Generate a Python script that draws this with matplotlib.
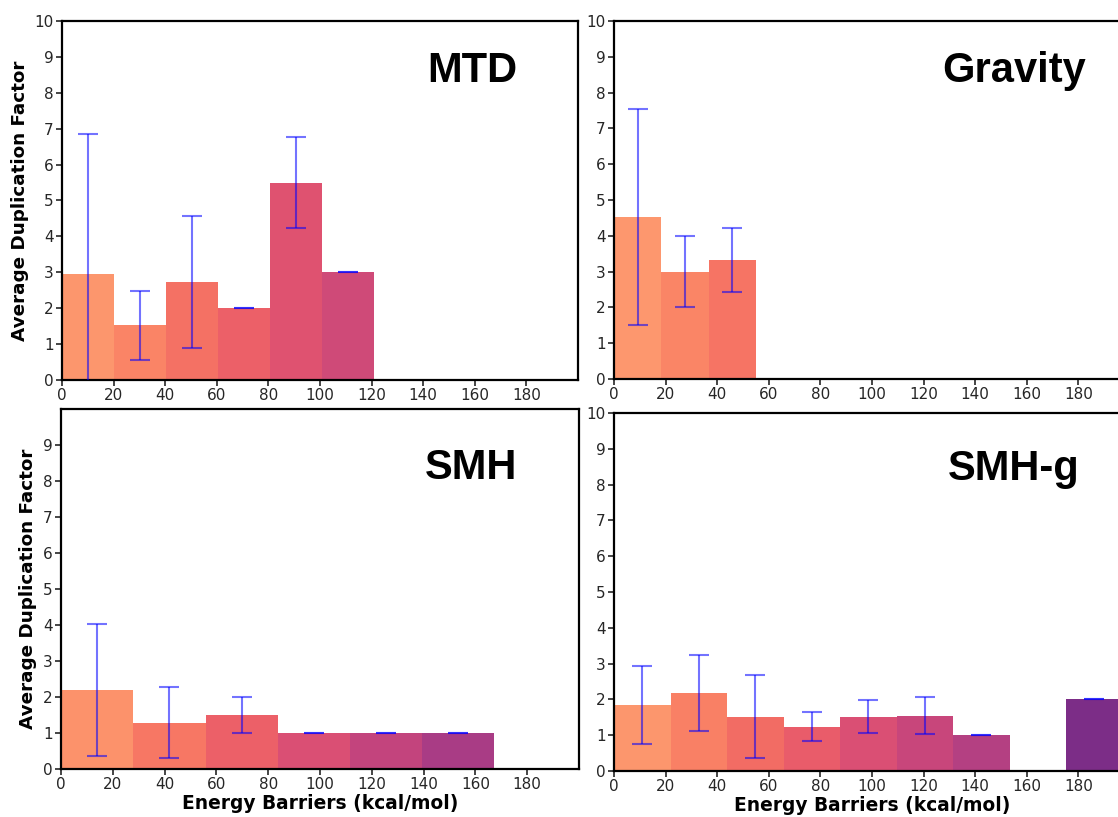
import numpy as np
import matplotlib
matplotlib.use("Agg")
import matplotlib.pyplot as plt

# ---------------- data ----------------
mtd_edges = [0, 20.2, 40.3, 60.5, 80.7, 100.8, 121.0]
mtd_heights = [2.96, 1.53, 2.74, 2.0, 5.5, 3.0]
mtd_err = [3.89, 0.96, 1.84, 0.0, 1.26, 0.0]

grav_edges = [0, 18.4, 36.7, 55.1]
grav_heights = [4.52, 3.0, 3.33]
grav_err = [3.01, 1.0, 0.89]

smh_edges = [0, 27.9, 55.8, 83.7, 111.6, 139.5, 167.3]
smh_heights = [2.19, 1.29, 1.5, 1.0, 1.0, 1.0]
smh_err = [1.84, 0.98, 0.5, 0.0, 0.0, 0.0]

smhg_edges = [0, 21.9, 43.8, 65.7, 87.6, 109.5, 131.4, 153.3, 175.2, 197.1]
smhg_heights = [1.84, 2.18, 1.52, 1.24, 1.52, 1.54, 1.0, 0.0, 2.0]
smhg_err = [1.08, 1.05, 1.16, 0.41, 0.47, 0.52, 0.0, np.nan, 0.0]

titles = ["MTD", "Gravity", "SMH", "SMH-g"]
xticks = [0, 20, 40, 60, 80, 100, 120, 140, 160, 180]
xlabel = "Energy Barriers (kcal/mol)"
ylabel = "Average Duplication Factor"

# ---------------- style ----------------
W, H = 1118, 817
fig = plt.figure(figsize=(W / 100, H / 100), dpi=100)

def pos(l, t, r, b):
    return [l / W, 1 - b / H, (r - l) / W, (b - t) / H]

cmap = plt.get_cmap("magma")
def bar_color(c):
    return cmap(np.interp(c, [0, 110, 150, 190], [0.79, 0.56, 0.47, 0.33]))

panels = [
    (pos(62, 21, 578, 380), mtd_edges, mtd_heights, mtd_err, titles[0], (159, 8.3), True, False, list(range(11))),
    (pos(614, 21, 1130, 379), grav_edges, grav_heights, grav_err, titles[1], (155, 8.3), False, False, list(range(11))),
    (pos(61, 409, 579, 769), smh_edges, smh_heights, smh_err, titles[2], (158.5, 8.05), True, True, list(range(10))),
    (pos(614, 413, 1130, 771), smhg_edges, smhg_heights, smhg_err, titles[3], (155, 8.14), False, True, list(range(11))),
]

for rect, edges, heights, err, title, tpos, ylab, xlab, yt in panels:
    ax = fig.add_axes(rect)
    edges = np.asarray(edges, dtype=float)
    lefts = edges[:-1]
    widths = np.diff(edges)
    centers = lefts + widths / 2
    cols = [bar_color(c) for c in centers]
    ax.bar(lefts, heights, width=widths, align="edge", color=cols,
           alpha=0.95, linewidth=0, zorder=2)
    ax.errorbar(centers, heights, yerr=err, fmt="none", ecolor="blue",
                alpha=0.55, elinewidth=1.5, capsize=7, capthick=1.5, zorder=3)
    ax.set_xlim(0, 200)
    ax.set_ylim(0, 10)
    ax.set_xticks(xticks)
    ax.set_yticks(yt)
    ax.tick_params(direction="out", length=4, width=1.2, labelsize=11,
                   labelcolor="#262626", color="#262626", pad=2)
    for sp in ax.spines.values():
        sp.set_linewidth(1.6)
        sp.set_color("black")
    if ylab:
        ax.set_ylabel(ylabel, fontsize=13.2, fontweight="bold", labelpad=4)
    if xlab:
        ax.set_xlabel(xlabel, fontsize=13.4, fontweight="bold", labelpad=1)
    ax.text(tpos[0], tpos[1], title, ha="center", va="baseline",
            fontsize=30, fontweight="bold", family="Liberation Sans", color="black")

fig.savefig("out.png", dpi=100)
